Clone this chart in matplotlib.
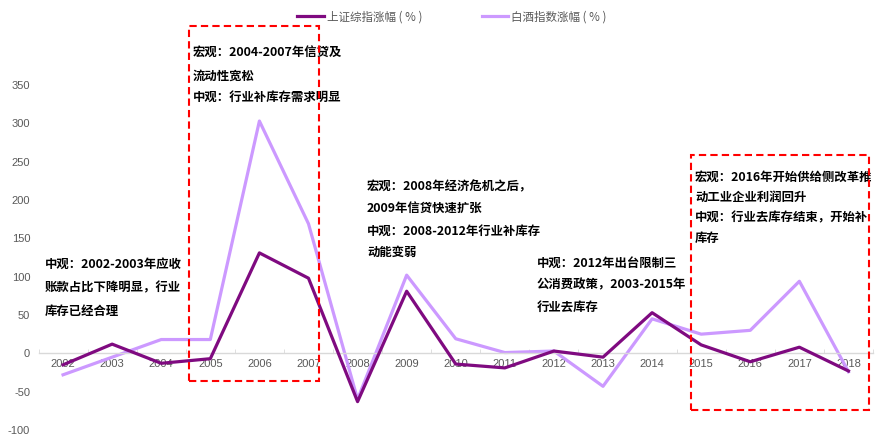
import matplotlib
matplotlib.use("Agg")
import matplotlib.pyplot as plt
from matplotlib.patches import Rectangle

plt.rcParams['font.family'] = ['Noto Sans CJK SC', 'DejaVu Sans']

years = ['2002', '2003', '2004', '2005', '2006', '2007', '2008', '2009', '2010',
         '2011', '2012', '2013', '2014', '2015', '2016', '2017', '2018']
shanghai = [-15, 12, -13, -7, 131, 98, -63, 81, -14, -19, 3, -5, 53, 11, -11, 8, -23]
baijiu = [-28, -5, 18, 18, 303, 169, -60, 102, 19, 1, 3, -43, 45, 25, 30, 94, -24]
series_names = ['上证综指涨幅 ( % )', '白酒指数涨幅 ( % )']
yticks = [-100, -50, 0, 50, 100, 150, 200, 250, 300, 350]

notes = [
    ['中观：2002-2003年应收', '账款占比下降明显，行业', '库存已经合理'],
    ['宏观：2004-2007年信贷及', '流动性宽松', '中观：行业补库存需求明显'],
    ['宏观：2008年经济危机之后，', '2009年信贷快速扩张', '中观：2008-2012年行业补库存', '动能变弱'],
    ['中观：2012年出台限制三', '公消费政策，2003-2015年', '行业去库存'],
    ['宏观：2016年开始供给侧改革推', '动工业企业利润回升', '中观：行业去库存结束，开始补', '库存'],
]

W, H = 877, 436
fig = plt.figure(figsize=(W / 100, H / 100), dpi=100)
ax = fig.add_axes([38.5 / W, 1 - 430 / H, (873 - 38.5) / W, (430 - 85) / H])

x = list(range(len(years)))
l1, = ax.plot(x, shanghai, color='#7F0A80', lw=2.3, label=series_names[0], zorder=3)
l2, = ax.plot(x, baijiu, color='#CC99FF', lw=2.3, label=series_names[1], zorder=2)

ax.set_xlim(-0.5, len(years) - 0.5)
ax.set_ylim(-100, 350)
ax.set_yticks(yticks)
ax.set_yticklabels([str(v) for v in yticks])
ax.set_xticks(x)
ax.set_xticklabels(years)
ax.set_xticks([i + 0.5 for i in range(-1, len(years))], minor=True)

for s in ['top', 'right', 'left']:
    ax.spines[s].set_visible(False)
ax.spines['bottom'].set_position(('data', 0))
ax.spines['bottom'].set_color('#D9D9D9')
ax.spines['bottom'].set_linewidth(1.0)
ax.tick_params(axis='y', length=0, pad=6, labelsize=8, labelcolor='#595959')
ax.tick_params(axis='x', which='major', length=0, pad=4, labelsize=8, labelcolor='#595959')
ax.tick_params(axis='x', which='minor', length=3, direction='in', color='#D9D9D9')
for lab in ax.get_xticklabels() + ax.get_yticklabels():
    lab.set_family(['Liberation Sans', 'DejaVu Sans'])
ax.patch.set_visible(False)

leg = fig.legend(handles=[l1, l2], loc='center', bbox_to_anchor=(452 / W, 1 - 17 / H),
                 ncol=2, frameon=False, fontsize=8.3, handlelength=2.3,
                 handletextpad=0.25, columnspacing=5.2)
for t in leg.get_texts():
    t.set_color('#595959')

# annotation texts (pixel layout)
starts = [(45, [264, 288, 311]), (193, [53, 76, 97]), (367, [187, 209, 231, 252]),
          (537, [263, 285, 307]), (695, [177, 197, 218, 238])]
for lines, (px, pys) in zip(notes, starts):
    for line, py in zip(lines, pys):
        fig.text(px / W, 1 - py / H, line, fontsize=8.9, fontweight='bold',
                 color='black', ha='left', va='center')

# dashed red boxes
for (x0, y0, x1, y1) in [(189, 26, 319, 381), (691, 155, 869, 410)]:
    r = Rectangle((x0 / W, 1 - y1 / H), (x1 - x0) / W, (y1 - y0) / H,
                  transform=fig.transFigure, fill=False, edgecolor='#FF0000',
                  lw=1.5, linestyle=(0, (3.5, 2)), zorder=5)
    fig.patches.append(r)

fig.savefig('out.png', dpi=100)
